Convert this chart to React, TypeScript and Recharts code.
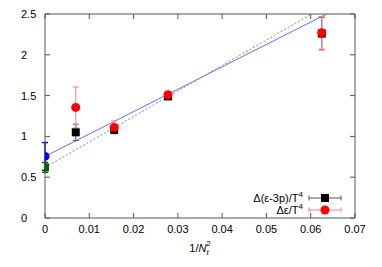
import React from 'react';
import {
  ComposedChart,
  Scatter,
  Line,
  XAxis,
  YAxis,
  ErrorBar,
  Legend,
} from 'recharts';

const FONT = '"Liberation Sans", Arial, sans-serif';
const AXIS = '#555';

const xTicks = [0, 0.01, 0.02, 0.03, 0.04, 0.05, 0.06, 0.07];
const yTicks = [0, 0.5, 1, 1.5, 2, 2.5];

// 1/Nt^2 for Nt = 12, 8, 6, 4
const latticeX = [1 / 144, 1 / 64, 1 / 36, 1 / 16];
const traceVals = [1.05, 1.08, 1.49, 2.26];
const traceErr = [0.1, 0.03, 0.03, 0.2];
const energyVals = [1.355, 1.11, 1.51, 2.27];
const energyErr = [0.25, 0.08, 0.03, 0.2];

// continuum extrapolations at 1/Nt^2 = 0
const contEnergy = { x: 0, y: 0.755, err: 0.17 };
const contTrace = { x: 0, y: 0.62, err: 0.06 };

// fit lines (start at x = 0, leave the frame at y = 2.5)
const fitEnergy = [
  { x: 0, y: 0.755 },
  { x: 0.0636, y: 2.5 },
];
const fitTrace = [
  { x: 0, y: 0.62 },
  { x: 0.0602, y: 2.5 },
];

const traceData = latticeX.map((x, i) => ({ x, y: traceVals[i], err: traceErr[i] }));
const energyData = latticeX.map((x, i) => ({ x, y: energyVals[i], err: energyErr[i] }));

const fmt = (v: number) => String(v);

const BottomTick = (props: any) => {
  const { x, y, payload } = props;
  return (
    <g>
      <line x1={x} y1={y} x2={x} y2={y - 5} stroke={AXIS} />
      <text x={x} y={y + 15} textAnchor="middle" fontSize={11} fontFamily={FONT} fill="#000">
        {fmt(payload.value)}
      </text>
    </g>
  );
};

const TopTick = (props: any) => {
  const { x, y } = props;
  return <line x1={x} y1={y} x2={x} y2={y + 5} stroke={AXIS} />;
};

const LeftTick = (props: any) => {
  const { x, y, payload } = props;
  return (
    <g>
      <line x1={x} y1={y} x2={x + 5} y2={y} stroke={AXIS} />
      <text x={x - 24} y={y + 4} textAnchor="start" fontSize={11} fontFamily={FONT} fill="#000">
        {fmt(payload.value)}
      </text>
    </g>
  );
};

const RightTick = (props: any) => {
  const { x, y } = props;
  return <line x1={x} y1={y} x2={x - 5} y2={y} stroke={AXIS} />;
};

const XTitle = (props: any) => {
  const { viewBox } = props;
  const cx = viewBox.x + viewBox.width / 2;
  const cy = viewBox.y + 34;
  return (
    <text x={cx} y={cy} textAnchor="middle" fontSize={11} fontFamily={FONT} fill="#000">
      1/<tspan fontStyle="italic">N</tspan>
      <tspan fontStyle="italic" fontSize={8} dy={3}>t</tspan>
      <tspan fontSize={8} dy={-9} dx={-2.5}>2</tspan>
    </text>
  );
};

const legendItems = [
  { label: 'Δ(ε-3p)/T', color: '#000', bar: '#555', shape: 'square' },
  { label: 'Δε/T', color: '#f00', bar: '#ff8080', shape: 'circle' },
];

const LegendBox = () => (
  <div style={{ fontFamily: FONT, fontSize: 11, width: 130 }}>
    {legendItems.map((it) => (
      <div
        key={it.label}
        style={{ display: 'flex', justifyContent: 'flex-end', alignItems: 'center', height: 12 }}
      >
        <span style={{ paddingRight: 2, whiteSpace: 'nowrap' }}>
          {it.label}
          <span style={{ fontSize: 8, position: 'relative', top: -5 }}>4</span>
        </span>
        <svg width={40} height={12}>
          <line x1={4} y1={6} x2={36} y2={6} stroke={it.bar} />
          <line x1={4} y1={3.5} x2={4} y2={8.5} stroke={it.bar} />
          <line x1={36} y1={3.5} x2={36} y2={8.5} stroke={it.bar} />
          {it.shape === 'square' ? (
            <rect x={16} y={2} width={8} height={8} fill={it.color} />
          ) : (
            <circle cx={20} cy={6} r={4.5} fill={it.color} />
          )}
        </svg>
      </div>
    ))}
  </div>
);

export default function App() {
  return (
    <div style={{ position: 'absolute', left: 0, top: 0, background: '#fff' }}>
      <ComposedChart
        width={382}
        height={267}
        margin={{ top: 13, right: 26, bottom: 0, left: 0 }}
      >
        <XAxis
          dataKey="x"
          type="number"
          domain={[0, 0.07]}
          ticks={xTicks}
          allowDataOverflow
          height={49}
          tickSize={0}
          tickMargin={0}
          tickLine={false}
          axisLine={{ stroke: AXIS }}
          tick={<BottomTick />}
          interval={0}
          label={<XTitle />}
        />
        <XAxis
          xAxisId="top"
          dataKey="x"
          orientation="top"
          type="number"
          domain={[0, 0.07]}
          ticks={xTicks}
          allowDataOverflow
          height={1}
          tickSize={0}
          tickMargin={0}
          tickLine={false}
          axisLine={{ stroke: AXIS }}
          tick={<TopTick />}
          interval={0}
        />
        <YAxis
          type="number"
          domain={[0, 2.5]}
          ticks={yTicks}
          allowDataOverflow
          width={45}
          tickSize={0}
          tickMargin={0}
          tickLine={false}
          axisLine={{ stroke: AXIS }}
          tick={<LeftTick />}
          interval={0}
        />
        <YAxis
          yAxisId="right"
          orientation="right"
          type="number"
          domain={[0, 2.5]}
          ticks={yTicks}
          allowDataOverflow
          width={1}
          tickSize={0}
          tickMargin={0}
          tickLine={false}
          axisLine={{ stroke: AXIS }}
          tick={<RightTick />}
          interval={0}
        />
        <Line
          data={fitEnergy}
          dataKey="y"
          type="linear"
          stroke="#6a6aff"
          strokeWidth={1}
          dot={false}
          activeDot={false}
          isAnimationActive={false}
        />
        <Line
          data={fitTrace}
          dataKey="y"
          type="linear"
          stroke="#60a860"
          strokeWidth={1}
          strokeDasharray="2 2"
          dot={false}
          activeDot={false}
          isAnimationActive={false}
        />
        <Line
          data={fitTrace}
          dataKey="y"
          xAxisId="top"
          yAxisId="right"
          stroke="none"
          dot={false}
          activeDot={false}
          legendType="none"
          isAnimationActive={false}
        />
        <Scatter data={[contEnergy]} dataKey="y" fill="#0000ff" shape="circle" isAnimationActive={false}>
          <ErrorBar dataKey="err" direction="y" width={3} stroke="#0000ff" strokeWidth={1.5} />
        </Scatter>
        <Scatter data={[contTrace]} dataKey="y" fill="#006400" shape="square" isAnimationActive={false}>
          <ErrorBar dataKey="err" direction="y" width={3} stroke="#006400" strokeWidth={1.5} />
        </Scatter>
        <Scatter data={traceData} dataKey="y" fill="#000" shape="square" isAnimationActive={false}>
          <ErrorBar dataKey="err" direction="y" width={3} stroke="#555" strokeWidth={1} />
        </Scatter>
        <Scatter data={energyData} dataKey="y" fill="#f00" shape="circle" isAnimationActive={false}>
          <ErrorBar dataKey="err" direction="y" width={3} stroke="#ff8080" strokeWidth={1} />
        </Scatter>
        <Legend
          layout="horizontal"
          verticalAlign="middle"
          align="center"
          content={<LegendBox />}
          wrapperStyle={{ position: 'absolute', left: 215, top: 192, width: 130 }}
        />
      </ComposedChart>
    </div>
  );
}
